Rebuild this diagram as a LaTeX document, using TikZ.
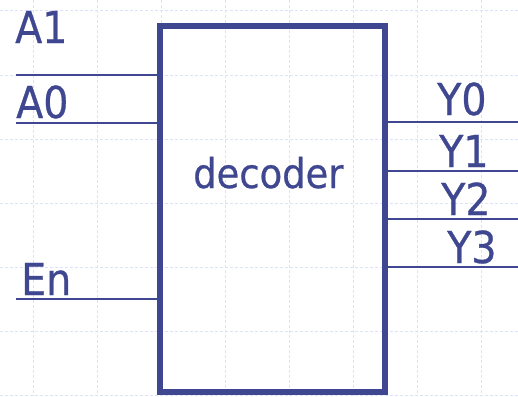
\documentclass[tikz,border=0pt]{standalone}
\usepackage{fontspec}
\setmainfont[FakeBold=0.6]{DejaVu Sans Condensed}
\definecolor{ink}{RGB}{62,71,143}
\definecolor{gridblue}{RGB}{218,226,252}
\begin{document}
\begin{tikzpicture}[x=1pt,y=-1pt,
  wire/.style={draw=ink,line width=2pt},
  lbl/.style={inner sep=0pt,anchor=base west,text=ink,font=\fontsize{44}{44}\selectfont},
  blk/.style={draw=ink,line width=5.5pt,rectangle,inner sep=0pt,minimum width=225pt,minimum height=366pt}]
\useasboundingbox (0,0) rectangle (518,396);
% background grid
\foreach \gx in {33,97,...,481}
  \draw[gridblue,line width=1pt,dash pattern=on 3pt off 2pt] (\gx,0) -- (\gx,396);
\foreach \gy in {11,75,...,395}
  \draw[gridblue,line width=1pt,dash pattern=on 3pt off 2pt] (0,\gy) -- (518,\gy);
% decoder block
\node[blk] (dec) at (272.5,209) {};
\node[lbl,font=\fontsize{41}{41}\selectfont] (name) at (193,188) {decoder};
% inputs
\node[lbl] (la1) at (15,43) {A1};
\node[lbl] (la0) at (16,118) {A0};
\node[lbl] (len) at (21,295) {En};
\coordinate (ia1) at (16,75);
\coordinate (ia0) at (16,123);
\coordinate (ien) at (16,299);
\draw[wire] (ia1) -- (ia1 -| dec.west);
\draw[wire] (ia0) -- (ia0 -| dec.west);
\draw[wire] (ien) -- (ien -| dec.west);
% outputs
\node[lbl] (ly0) at (437,115) {Y0};
\node[lbl] (ly1) at (439,167) {Y1};
\node[lbl] (ly2) at (441,215) {Y2};
\node[lbl] (ly3) at (447,263) {Y3};
\coordinate (oy0) at (518,122);
\coordinate (oy1) at (518,171);
\coordinate (oy2) at (518,219);
\coordinate (oy3) at (518,267);
\draw[wire] (oy0 -| dec.east) -- (oy0);
\draw[wire] (oy1 -| dec.east) -- (oy1);
\draw[wire] (oy2 -| dec.east) -- (oy2);
\draw[wire] (oy3 -| dec.east) -- (oy3);
\end{tikzpicture}
\end{document}
